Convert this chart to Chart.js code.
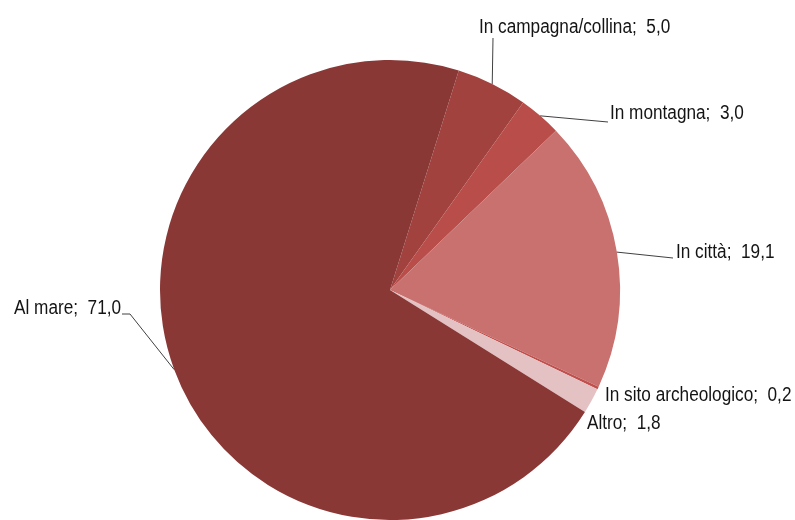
<!DOCTYPE html>
<html>
<head>
<meta charset="utf-8">
<script src="https://cdn.jsdelivr.net/npm/chart.js@4.4.1/dist/chart.umd.min.js"></script>
<style>
  html, body { margin: 0; padding: 0; background: #ffffff; overflow: hidden; }
  #wrap { width: 795px; height: 520px; }
</style>
</head>
<body>
<div id="wrap"><canvas id="c" width="795" height="520" style="width:795px;height:520px"></canvas></div>
<script>
// ---- data (clockwise order starting after "Al mare") ----
const categories = ["In campagna/collina", "In montagna", "In città", "In sito archeologico", "Altro", "Al mare"];
const values = [5.0, 3.0, 19.1, 0.2, 1.8, 71.0];
const valueLabels = ["5,0", "3,0", "19,1", "0,2", "1,8", "71,0"];
const colors = ["#A2423F", "#B84D49", "#C8716F", "#C0504D", "#E4C1C2", "#8A3836"];

// ---- label placement (text anchor, optional elbow) ----
const labelLayout = [
  { tx: 479, ty: 27, line: true, elbow: [493, 38] },
  { tx: 610, ty: 113, line: true, elbow: [608, 122] },
  { tx: 676, ty: 252, line: true, elbow: [673, 258] },
  { tx: 605, ty: 395, line: false },
  { tx: 587, ty: 423, line: false },
  { tx: 14, ty: 308, line: true, elbow: [130, 314], tail: [122, 314] }
];

function hasFont(name) {
  const c = document.createElement('canvas').getContext('2d');
  c.font = '40px monospace';
  const w1 = c.measureText('abcdefghijklmnopqrstuvwxyz').width;
  c.font = '40px "' + name + '", monospace';
  const w2 = c.measureText('abcdefghijklmnopqrstuvwxyz').width;
  return Math.abs(w1 - w2) > 0.5;
}
const narrow = hasFont('Liberation Sans Narrow');
const fontFamily = narrow ? '"Liberation Sans Narrow"' : '"Liberation Sans", Arial, sans-serif';
const xScale = narrow ? 1.04 : 0.86;

const labelPlugin = {
  id: 'pieLabels',
  afterDatasetsDraw(chart) {
    const ctx = chart.ctx;
    const meta = chart.getDatasetMeta(0);
    ctx.save();
    meta.data.forEach((arc, i) => {
      const L = labelLayout[i];
      const p = arc.getProps(['x', 'y', 'startAngle', 'endAngle', 'outerRadius'], true);
      const mid = (p.startAngle + p.endAngle) / 2;
      const ex = p.x + Math.cos(mid) * p.outerRadius;
      const ey = p.y + Math.sin(mid) * p.outerRadius;
      if (L.line) {
        ctx.beginPath();
        ctx.strokeStyle = '#404040';
        ctx.lineWidth = 1;
        ctx.moveTo(ex, ey);
        ctx.lineTo(L.elbow[0], L.elbow[1]);
        if (L.tail) ctx.lineTo(L.tail[0], L.tail[1]);
        ctx.stroke();
      }
      const text = categories[i] + ';  ' + valueLabels[i];
      ctx.save();
      ctx.translate(L.tx, L.ty);
      ctx.scale(xScale, 1);
      ctx.fillStyle = '#141414';
      ctx.font = '20px ' + fontFamily;
      ctx.textAlign = 'left';
      ctx.textBaseline = 'middle';
      ctx.fillText(text, 0, 0);
      ctx.restore();
    });
    ctx.restore();
  }
};

new Chart(document.getElementById('c'), {
  type: 'pie',
  data: {
    labels: categories,
    datasets: [{
      data: values,
      backgroundColor: colors,
      borderWidth: 0
    }]
  },
  options: {
    responsive: false,
    animation: false,
    rotation: 17.4,
    layout: { padding: { left: 160, right: 175, top: 60, bottom: 0 } },
    plugins: {
      legend: { display: false },
      tooltip: { enabled: false }
    }
  },
  plugins: [labelPlugin]
});
</script>
</body>
</html>
